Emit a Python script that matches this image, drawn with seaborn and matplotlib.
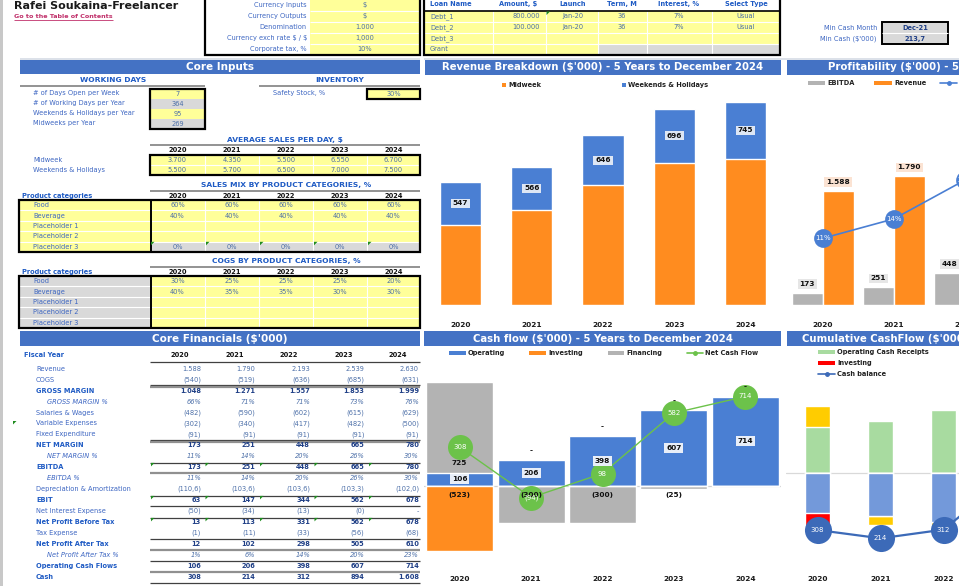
import matplotlib
matplotlib.use("Agg")
import matplotlib.pyplot as plt
import seaborn as sns
import numpy as np
import pandas as pd
from matplotlib.patches import Rectangle, Polygon

sns.set_style("white")
plt.rcParams['font.family'] = ['DejaVu Sans']

W, H = 959, 586

# ---------------- data ----------------
years = ["2020", "2021", "2022", "2023", "2024"]

currency_labels = ["Currency Inputs", "Currency Outputs", "Denomination",
                   "Currency exch rate $ / $", "Corporate tax, %"]
currency_values = ["$", "$", "1.000", "1,000", "10%"]

loan_headers = ["Loan Name", "Amount, $", "Launch", "Term, M", "Interest, %", "Select Type"]
loan_names = ["Debt_1", "Debt_2", "Debt_3", "Grant"]
loan_amounts = ["800.000", "100.000", "", ""]
loan_launch = ["Jan-20", "Jan-20", "", ""]
loan_term = ["36", "36", "", ""]
loan_interest = ["7%", "7%", "", ""]
loan_type = ["Usual", "Usual", "", ""]

min_cash_labels = ["Min Cash Month", "Min Cash ($'000)"]
min_cash_values = ["Dec-21", "213,7"]

working_labels = ["# of Days Open per Week", "# of Working Days per Year",
                  "Weekends & Holidays per Year", "Midweeks per Year"]
working_values = ["7", "364", "95", "269"]
safety_stock = "30%"

avg_sales_labels = ["Midweek", "Weekends & Holidays"]
avg_sales_midweek = [3700, 4350, 5500, 6550, 6700]
avg_sales_weekend = [5500, 5700, 6500, 7000, 7500]

product_cats = ["Food", "Beverage", "Placeholder 1", "Placeholder 2", "Placeholder 3"]
mix_food = ["60%", "60%", "60%", "60%", "60%"]
mix_beverage = ["40%", "40%", "40%", "40%", "40%"]
mix_placeholder3 = ["0%", "0%", "0%", "0%", "0%"]
cogs_food = ["30%", "25%", "25%", "25%", "20%"]
cogs_beverage = ["40%", "35%", "35%", "30%", "30%"]

revenue = [1588, 1790, 2193, 2539, 2630]
cogs = [-540, -519, -636, -685, -631]
gross_margin = [1048, 1271, 1557, 1853, 1999]
gross_margin_pct = [66, 71, 71, 73, 76]
salaries = [-482, -590, -602, -615, -629]
variable_exp = [-302, -340, -417, -482, -500]
fixed_exp = [-91, -91, -91, -91, -91]
net_margin = [173, 251, 448, 665, 780]
net_margin_pct = [11, 14, 20, 26, 30]
ebitda = [173, 251, 448, 665, 780]
ebitda_pct = [11, 14, 20, 26, 30]
depreciation = [-110.6, -103.6, -103.6, -103.3, -102.0]
ebit = [63, 147, 344, 562, 678]
net_interest = [-50, -34, -13, -0.4, 0]
npbt = [13, 113, 331, 562, 678]
tax_expense = [-1, -11, -33, -56, -68]
npat = [12, 102, 298, 505, 610]
npat_pct = [1, 6, 14, 20, 23]
op_cash_flows = [106, 206, 398, 607, 714]
cash = [308, 214, 312, 894, 1608]

midweek_rev = [1041, 1224, 1547, 1843, 1885]
weekend_rev = [547, 566, 646, 696, 745]

investing_cf = [-523, 0, 0, 0, 0]
financing_cf = [725, -300, -300, -25, 0]
net_cf = [308, -94, 98, 582, 714]

cum_receipts = [1588, 1790, 2193, 2539, 2630]
cum_payments = [-1413, -1505, -1710, -1830, -1820]

# ---------------- colours ----------------
BAND = "#4472C4"
YEL = "#FFFF99"
GRY = "#D9D9D9"
LBL = "#3D66C2"
HDR = "#1F5BC4"
VAL = "#4C6FA8"
DARK = "#1F3F86"
BLUE = "#4A7FD3"
ORANGE = "#FF8C1F"
BGRAY = "#B3B3B3"
GREEN = "#6CC24A"
LGREEN = "#A8DBA0"
LBLUE = "#7399DA"
GOLD = "#FFCC00"
RED = "#FF0000"
MBLUE = "#3C6AB8"

fig = plt.figure(figsize=(W / 100, H / 100), dpi=100)
sheet = fig.add_axes([0, 0, 1, 1])
sheet.set_xlim(0, W)
sheet.set_ylim(H, 0)
sheet.axis("off")


def px_axes(x0, y0, x1, y1):
    ax = fig.add_axes([x0 / W, 1 - y1 / H, (x1 - x0) / W, (y1 - y0) / H])
    ax.set_facecolor("none")
    return ax


def rect(x0, y0, x1, y1, fc, ec="none", lw=0, z=1):
    sheet.add_patch(Rectangle((x0, y0), x1 - x0, y1 - y0, facecolor=fc,
                              edgecolor=ec, linewidth=lw, zorder=z))


def hline(y, x0, x1, color="white", lw=0.8, z=2):
    sheet.plot([x0, x1], [y, y], color=color, lw=lw, zorder=z, solid_capstyle="butt")


def vline(x, y0, y1, color="white", lw=0.8, z=2):
    sheet.plot([x, x], [y0, y1], color=color, lw=lw, zorder=z, solid_capstyle="butt")


def txt(x, y, s, ha="left", size=4.8, color=LBL, weight="normal", style="normal", z=5):
    sheet.text(x, y, s, ha=ha, va="center", fontsize=size, color=color,
               fontweight=weight, fontstyle=style, zorder=z, parse_math=False)


def tri(x, y):
    sheet.add_patch(Polygon([(x, y), (x + 3.5, y), (x, y + 3.5)], closed=True,
                            facecolor="#1E8C1E", edgecolor="none", zorder=6))


def fmt(v, dec=0):
    if v == 0:
        return "-"
    s = f"{abs(v):,.{dec}f}".replace(",", "X").replace(".", ",").replace("X", ".")
    return f"({s})" if v < 0 else s


# ---------------- header ----------------
rect(0, 0, 2.5, H, "#C8C8C8")
txt(14, 6, "Rafei Soukaina-Freelancer", size=8, weight="bold", color="#1a1a1a")
txt(14, 16.5, "Go to the Table of Contents", size=4.6, weight="bold", color="#C0306A")
hline(20, 14, 113, color="#C0306A", lw=0.6)

# currency table
rect(310, -2, 420, 55, YEL)
for y in [11, 22, 33, 44]:
    hline(y, 310, 420)
for i, (lab, val) in enumerate(zip(currency_labels, currency_values)):
    y = 5 + 11 * i
    txt(307, y, lab, ha="right")
    txt(365, y, val, ha="center", color=VAL)
rect(205, -2, 420, 55, "none", ec="black", lw=1.6, z=4)

# loan table
rect(424, 11, 780, 55, YEL)
rect(598, 44, 780, 55, GRY)
for y in [22, 33, 44]:
    hline(y, 424, 780)
for x in [493, 546, 598, 647, 712]:
    vline(x, 11, 55)
hline(11, 424, 780, color="black", lw=1.2, z=3)
rect(424, -2, 780, 55, "none", ec="black", lw=1.6, z=4)
head_x = [430, 518, 573, 622, 679, 746]
for j, h in enumerate(loan_headers):
    txt(head_x[j], 4, h, ha="left" if j == 0 else "center", weight="bold", color=HDR)
for i in range(4):
    y = 16.3 + 11 * i
    txt(430, y, loan_names[i], color=VAL)
    txt(540, y, loan_amounts[i], ha="right", color=VAL)
    txt(573, y, loan_launch[i], ha="center", color=VAL)
    txt(622, y, loan_term[i], ha="center", color=VAL)
    txt(679, y, loan_interest[i], ha="center", color=VAL)
    txt(746, y, loan_type[i], ha="center", color=VAL)
tri(546.5, 11.5)

# min cash
rect(882, 22, 948, 44, GRY, ec="black", lw=1.4, z=3)
hline(33, 882, 948, color="white", lw=0.8, z=4)
for i in range(2):
    txt(877, 27.5 + 11 * i, min_cash_labels[i], ha="right")
    txt(915, 27.5 + 11 * i, min_cash_values[i], ha="center", weight="bold", color=DARK)

hline(58.5, 20, 420, color="#D6DCE5", lw=1.2)
hline(58.5, 424, 959, color="#D6DCE5", lw=1.2)

# ---------------- section bands ----------------
rect(20, 60, 420, 74, BAND)
txt(220, 67, "Core Inputs", ha="center", size=7.5, weight="bold", color="white")
rect(425, 60, 781, 75, BAND)
txt(603, 67.5, "Revenue Breakdown ($'000) - 5 Years to December 2024", ha="center",
    size=7.3, weight="bold", color="white")
rect(787, 60, 960, 75, BAND)
txt(828, 67.5, "Profitability ($'000) - 5 Years to December 2024", size=7.3,
    weight="bold", color="white")
rect(20, 331, 420, 346, BAND)
txt(220, 338.5, "Core Financials ($'000)", ha="center", size=7.5, weight="bold", color="white")
rect(424, 331, 781, 346, BAND)
txt(602.5, 338.5, "Cash flow ($'000) - 5 Years to December 2024", ha="center",
    size=7.3, weight="bold", color="white")
rect(787, 331, 960, 346, BAND)
txt(802, 338.5, "Cumulative CashFlow ($'000) - 5 Years to December 2024", size=7.3,
    weight="bold", color="white")

# ---------------- core inputs ----------------
col_edges = [150, 205, 259, 313, 367, 420]
col_mid = [(a + b) / 2 for a, b in zip(col_edges[:-1], col_edges[1:])]

txt(113, 80, "WORKING DAYS", ha="center", size=5.4, weight="bold", color=HDR)
hline(85.5, 20, 205, color="#808080", lw=1.2)
txt(340, 80, "INVENTORY", ha="center", size=5.4, weight="bold", color=HDR)
hline(85.5, 259, 420, color="#808080", lw=1.2)

wd_fill = [YEL, GRY, YEL, GRY]
for i, (lab, val) in enumerate(zip(working_labels, working_values)):
    y0 = 89 + 10 * i
    rect(150, y0, 205, y0 + 10, wd_fill[i])
    txt(33, y0 + 4.5, lab)
    txt(177.5, y0 + 5, val, ha="center", color=VAL)
rect(150, 89, 205, 129, "none", ec="black", lw=1.6, z=4)
txt(273, 93.5, "Safety Stock, %")
rect(367, 89, 420, 99, YEL, ec="black", lw=1.6, z=3)
txt(393.5, 94, safety_stock, ha="center", color=VAL)

txt(285, 140, "AVERAGE SALES PER DAY, $", ha="center", size=5.4, weight="bold", color=HDR)
hline(145, 150, 420, color="#808080", lw=1.2)
for j, yr in enumerate(years):
    txt(col_mid[j], 150, yr, ha="center", weight="bold", color="#111111")
rect(150, 155, 420, 175, YEL)
hline(165, 150, 420)
for x in col_edges[1:-1]:
    vline(x, 155, 175)
rect(150, 155, 420, 175, "none", ec="black", lw=1.6, z=4)
for i, row in enumerate([avg_sales_midweek, avg_sales_weekend]):
    txt(33, 160 + 10 * i, avg_sales_labels[i])
    for j, v in enumerate(row):
        txt(col_mid[j], 160 + 10 * i, fmt(v), ha="center", color=VAL)


def category_table(title, ty, y0, label_fill, rows, last_gray):
    txt(286, ty, title, ha="center", size=5.4, weight="bold", color=HDR)
    hline(ty + 5.5, 150, 420, color="#808080", lw=1.2)
    txt(22, ty + 10.5, "Product categories", weight="bold", color=HDR)
    for j, yr in enumerate(years):
        txt(col_mid[j], ty + 10.5, yr, ha="center", weight="bold", color="#111111")
    rh = 10.4
    rect(19, y0, 150, y0 + 5 * rh, label_fill)
    rect(150, y0, 420, y0 + 5 * rh, YEL)
    if last_gray:
        rect(150, y0 + 4 * rh, 420, y0 + 5 * rh, GRY)
    for i in range(1, 5):
        hline(y0 + i * rh, 19, 420)
    for x in col_edges[1:-1]:
        vline(x, y0, y0 + 5 * rh)
    vline(150.5, y0, y0 + 5 * rh, color="black", lw=1.4, z=4)
    rect(19, y0, 420, y0 + 5 * rh, "none", ec="black", lw=1.6, z=4)
    for i, cat in enumerate(product_cats):
        yc = y0 + rh * (i + 0.5)
        txt(33, yc, cat)
        vals = rows.get(i)
        if vals:
            for j, v in enumerate(vals):
                txt(col_mid[j], yc, v, ha="center", color=VAL)


category_table("SALES MIX BY PRODUCT CATEGORIES, %", 185.5, 200, YEL,
               {0: mix_food, 1: mix_beverage, 4: mix_placeholder3}, True)
for x in col_edges[:-1]:
    tri(x + 1, 241.8)
category_table("COGS BY PRODUCT CATEGORIES, %", 261.5, 276, GRY,
               {0: cogs_food, 1: cogs_beverage}, False)

# ---------------- core financials ----------------
fin_rows = [
    ("Revenue", revenue, "n", 0), ("COGS", cogs, "n", 0),
    ("GROSS MARGIN", gross_margin, "b", 0), ("GROSS MARGIN %", gross_margin_pct, "p", 0),
    ("Salaries & Wages", salaries, "n", 0), ("Variable Expenses", variable_exp, "n", 0),
    ("Fixed Expenditure", fixed_exp, "n", 0), ("NET MARGIN", net_margin, "b", 0),
    ("NET MARGIN %", net_margin_pct, "p", 0), ("EBITDA", ebitda, "b", 0),
    ("EBITDA %", ebitda_pct, "p", 0), ("Depreciation & Amortization", depreciation, "n", 1),
    ("EBIT", ebit, "b", 0), ("Net Interest Expense", net_interest, "n", 0),
    ("Net Profit Before Tax", npbt, "b", 0), ("Tax Expense", tax_expense, "n", 0),
    ("Net Profit After Tax", npat, "b", 0), ("Net Profit After Tax %", npat_pct, "p", 0),
    ("Operating Cash Flows", op_cash_flows, "b", 0), ("Cash", cash, "b", 0),
]
val_right = [201, 255.5, 310, 364.5, 419]
txt(24, 355, "Fiscal Year", weight="bold", color=HDR)
for j, yr in enumerate(years):
    txt(val_right[j] - 21, 355, yr, ha="center", weight="bold", color="#111111")
for i, (lab, vals, kind, dec) in enumerate(fin_rows):
    y = 368.7 + 10.95 * i
    if kind == "b":
        txt(36, y, lab, weight="bold", color=HDR)
    elif kind == "p":
        txt(47, y, lab, style="italic")
    else:
        txt(36, y, lab)
    for j, v in enumerate(vals):
        if kind == "p":
            txt(val_right[j], y, f"{v}%", ha="right", style="italic", color=VAL)
        elif kind == "b":
            txt(val_right[j], y, fmt(v, dec), ha="right", weight="bold", color=DARK)
        else:
            txt(val_right[j], y, fmt(v, dec), ha="right", color=VAL)

for y in [362, 385, 440, 462.5, 495.5, 506, 517.5, 539, 561, 583]:
    hline(y, 150, 420, color="#404040", lw=0.9)
for y in [386.8, 441.8, 472.5, 550, 572]:
    hline(y, 150, 420, color="#909090", lw=1.6)
for y in [462.5, 495.5, 517.5]:
    for x in val_right:
        tri(x - 50, y + 0.4)
tri(13, 421)

# ---------------- chart legends ----------------
def leg_patch(x0, x1, y, color, label, h=4):
    rect(x0, y - h / 2, x1, y + h / 2, color)
    txt(x1 + 2, y, label, size=4.8, weight="bold", color="#222222")


def leg_line(x0, x1, y, color, label):
    sheet.plot([x0, x1], [y, y], color=color, lw=1.2, zorder=5)
    sheet.plot([(x0 + x1) / 2], [y], "o", color=color, ms=2.5, zorder=5)
    txt(x1 + 2, y, label, size=4.8, weight="bold", color="#222222")


leg_patch(502, 506, 85, ORANGE, "Midweek")
leg_patch(622, 626, 85, BLUE, "Weekends & Holidays")
leg_patch(808, 825, 83, BGRAY, "EBITDA")
leg_patch(874, 892, 83, ORANGE, "Revenue")
leg_line(940, 957, 83, BLUE, "EBITDA %")
leg_patch(449, 466, 353, BLUE, "Operating")
leg_patch(529, 546, 353, ORANGE, "Investing")
leg_patch(608, 624, 353, BGRAY, "Financing")
leg_line(687, 703, 353, GREEN, "Net Cash Flow")
leg_patch(818, 835, 352, LGREEN, "Operating Cash Receipts")
leg_patch(818, 835, 363, RED, "Investing")
leg_line(818, 835, 374, MBLUE, "Cash balance")


def style_axis(ax, pad):
    sns.despine(ax=ax, left=True, bottom=True)
    ax.set_yticks([])
    ax.set_xlabel("")
    ax.set_ylabel("")
    ax.set_xlim(-0.5, 4.5)
    ax.tick_params(axis="x", length=0, pad=pad)
    for t in ax.get_xticklabels():
        t.set_fontsize(5.3)
        t.set_fontweight("bold")
        t.set_color("#1a1a1a")


box = dict(boxstyle="square,pad=0.25", edgecolor="none")

# ---------------- revenue breakdown ----------------
ax_rev = px_axes(425, 90, 781, 305)
rev_df = pd.DataFrame({"year": years, "midweek": midweek_rev, "weekend": weekend_rev})
rev_df["total"] = rev_df["midweek"] + rev_df["weekend"]
sns.barplot(data=rev_df, x="year", y="total", color=BLUE, width=0.576, saturation=1,
            errorbar=None, ax=ax_rev)
sns.barplot(data=rev_df, x="year", y="midweek", color=ORANGE, width=0.576, saturation=1,
            errorbar=None, ax=ax_rev)
for i, r in rev_df.iterrows():
    ax_rev.text(i, r["midweek"] + r["weekend"] / 2, str(r["weekend"]), ha="center",
                va="center", fontsize=5.3, fontweight="bold", color="#111111",
                bbox={**box, "facecolor": "#DDE6F4"})
ax_rev.set_ylim(0, 2781)
style_axis(ax_rev, 12)

# ---------------- profitability ----------------
ax_prof = px_axes(787, 90, 1143, 305)
prof_df = pd.DataFrame({"year": years + years,
                        "series": ["EBITDA"] * 5 + ["Revenue"] * 5,
                        "value": ebitda + revenue})
sns.barplot(data=prof_df, x="year", y="value", hue="series", palette=[BGRAY, ORANGE],
            width=0.87, saturation=1, errorbar=None, legend=False, ax=ax_prof)
ax_prof.bar_label(ax_prof.containers[0], labels=[fmt(v) for v in ebitda], padding=4,
                  fontsize=5.3, fontweight="bold", color="#111111",
                  bbox={**box, "facecolor": "#E6E6E6"})
ax_prof.bar_label(ax_prof.containers[1], labels=[fmt(v) for v in revenue], padding=4,
                  fontsize=5.3, fontweight="bold", color="#111111",
                  bbox={**box, "facecolor": "#FBE3D3"})
ax_prof.set_ylim(0, 2982)
style_axis(ax_prof, 12)
ax_pct = ax_prof.twinx()
sns.lineplot(x=np.arange(5), y=ebitda_pct, ax=ax_pct, color=BLUE, lw=1.2, marker="o",
             markersize=13.5, markeredgewidth=0)
for i, p in enumerate(ebitda_pct):
    ax_pct.text(i, p, f"{p}%", ha="center", va="center", fontsize=5, color="white")
ax_pct.set_ylim(0.71, 33.9)
ax_pct.axis("off")

# ---------------- cash flow ----------------
ax_cf = px_axes(424, 360, 781, 570)
op = np.array(op_cash_flows)
inv = np.array(investing_cf)
fin = np.array(financing_cf)
cf_df = pd.DataFrame({"year": years,
                      "pos_total": op + np.clip(fin, 0, None),
                      "operating": op,
                      "neg_total": inv + np.clip(fin, None, 0),
                      "investing": inv})
ax_cf.axhline(0, color="#D0D0D0", lw=0.9, zorder=0)
sns.barplot(data=cf_df, x="year", y="pos_total", color=BGRAY, width=0.94, saturation=1,
            errorbar=None, ax=ax_cf)
sns.barplot(data=cf_df, x="year", y="operating", color=BLUE, width=0.94, saturation=1,
            errorbar=None, ax=ax_cf)
sns.barplot(data=cf_df, x="year", y="neg_total", color=BGRAY, width=0.94, saturation=1,
            errorbar=None, ax=ax_cf)
sns.barplot(data=cf_df, x="year", y="investing", color=ORANGE, width=0.94, saturation=1,
            errorbar=None, ax=ax_cf)
lab_kw = dict(ha="center", va="center", fontsize=5.3, fontweight="bold", color="#111111",
              textcoords="offset points")
for i in range(5):
    ax_cf.text(i, op[i] / 2, fmt(op[i]), ha="center", va="center", fontsize=5.3,
               fontweight="bold", color="#111111", bbox={**box, "facecolor": "#E8EEF8"})
    if fin[i] > 0:
        ax_cf.annotate(fmt(fin[i]), (i, op[i]), xytext=(0, 6.5), **lab_kw)
    neg = inv[i] if inv[i] != 0 else fin[i]
    if neg < 0:
        ax_cf.annotate(fmt(neg), (i, 0), xytext=(0, -7), **lab_kw)
    if inv[i] == 0:
        ax_cf.annotate("-", (i, op[i]), xytext=(0, 6.5), **lab_kw)
sns.lineplot(x=np.arange(5), y=net_cf, ax=ax_cf, color=GREEN, lw=1, marker="o",
             markersize=18, markeredgewidth=0)
for i, v in enumerate(net_cf):
    ax_cf.text(i, v, fmt(v), ha="center", va="center", fontsize=5, color="white")
ax_cf.set_ylim(-674, 1006)
style_axis(ax_cf, 4)

# ---------------- cumulative cash flow ----------------
ax_cum = px_axes(786, 385, 1101, 570)
rc = np.array(cum_receipts)
pay = np.array(cum_payments)
cum_df = pd.DataFrame({"year": years,
                       "pos_total": rc + np.clip(fin, 0, None),
                       "receipts": rc,
                       "neg_all": pay + inv + np.clip(fin, None, 0),
                       "neg_inv": pay + inv,
                       "payments": pay})
ax_cum.axhline(0, color="#D9D9D9", lw=0.9, zorder=0)
for col, c in [("pos_total", GOLD), ("receipts", LGREEN), ("neg_all", GOLD),
               ("neg_inv", RED), ("payments", LBLUE)]:
    sns.barplot(data=cum_df, x="year", y=col, color=c, width=0.4, saturation=1,
                errorbar=None, ax=ax_cum)
ax_cum.set_ylim(-3378, 3045)
style_axis(ax_cum, 4)
ax_bal = ax_cum.twinx()
sns.lineplot(x=np.arange(5), y=cash, ax=ax_bal, color=MBLUE, lw=1.6, marker="o",
             markersize=19.5, markeredgewidth=0)
for i, v in enumerate(cash):
    ax_bal.text(i, v, fmt(v), ha="center", va="center", fontsize=5, color="white")
ax_bal.set_ylim(-145, 1950)
ax_bal.axis("off")

fig.savefig("out.png", dpi=100)
